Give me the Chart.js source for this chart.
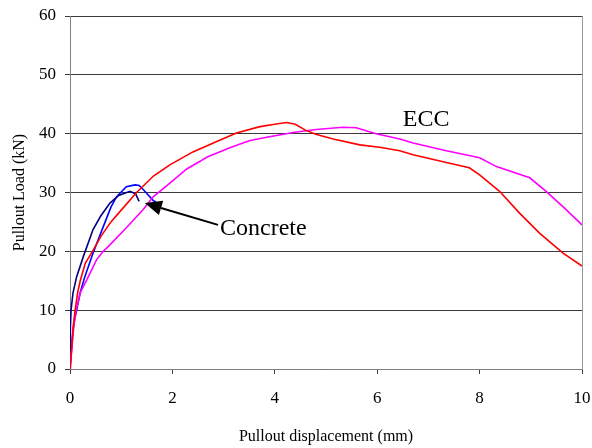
<!DOCTYPE html>
<html>
<head>
<meta charset="utf-8">
<script src="https://cdn.jsdelivr.net/npm/chart.js@4"></script>
<style>
  html, body { margin: 0; padding: 0; background: #fff; }
  #wrap { width: 592px; height: 448px; }
</style>
</head>
<body>
<div id="wrap"><canvas id="c" width="592" height="448"></canvas></div>
<script>
// Pullout load (kN) vs pullout displacement (mm)
const eccRedX = [0, 0.03, 0.06, 0.1, 0.15, 0.2, 0.3, 0.44, 0.6, 0.8, 1.0, 1.3, 1.63, 1.95, 2.4, 2.8, 3.25, 3.71, 4.0, 4.23, 4.4, 4.6, 4.8, 5.14, 5.66, 6.05, 6.44, 6.7, 7.35, 7.8, 8.0, 8.39, 8.78, 9.17, 9.63, 10.0];
const eccRedY = [0, 3, 7, 10, 13, 15, 18, 20, 22.5, 25, 27, 30, 32.8, 34.7, 36.9, 38.4, 40.1, 41.2, 41.6, 41.9, 41.6, 40.6, 39.9, 39.1, 38.1, 37.7, 37.1, 36.4, 35.1, 34.2, 33.0, 30.2, 26.5, 23.1, 19.7, 17.5];

const eccPinkX = [0, 0.03, 0.07, 0.12, 0.2, 0.33, 0.52, 0.65, 0.78, 1.1, 1.43, 1.63, 1.95, 2.28, 2.54, 2.67, 3.12, 3.5, 3.84, 4.36, 4.81, 5.33, 5.59, 5.98, 6.44, 6.7, 7.35, 8.0, 8.33, 8.98, 9.3, 9.69, 10.0];
const eccPinkY = [0, 3, 7, 10, 13, 15.2, 18.6, 20, 21.1, 24, 27.1, 29.3, 31.6, 34.0, 35.3, 36.0, 37.6, 38.8, 39.4, 40.2, 40.7, 41.1, 41.0, 40.0, 39.1, 38.4, 37.1, 35.9, 34.4, 32.5, 30.2, 27.1, 24.5];

const concNavyX = [0, 0.005, 0.01, 0.02, 0.06, 0.13, 0.26, 0.45, 0.6, 0.78, 0.95, 1.17, 1.28, 1.35];
const concNavyY = [0, 3, 7, 10, 13, 15.7, 19.1, 23.7, 26, 28.2, 29.5, 30.2, 29.8, 28.5];

const concBlueX = [0, 0.03, 0.08, 0.13, 0.2, 0.29, 0.45, 0.65, 0.8, 0.91, 1.1, 1.27, 1.35, 1.43, 1.63, 1.68];
const concBlueY = [0, 4, 8, 10, 13, 15.7, 19.7, 24.2, 27.5, 29.3, 31.0, 31.3, 31.2, 30.5, 28.6, 28.4];

const xTicks = [0, 2, 4, 6, 8, 10];
const yTicks = [0, 10, 20, 30, 40, 50, 60];

// Text callouts, in data units
const labelEcc = { text: 'ECC', x: 6.5, y: 41.3 };
const labelConcrete = { text: 'Concrete', x: 2.93, y: 22.8 };
const arrowConcrete = { fromX: 2.89, fromY: 24.5, toX: 1.46, toY: 28.2 };

const toPoints = (xs, ys) => xs.map((x, i) => ({ x: x, y: ys[i] }));

const serif = '"Liberation Serif", "Times New Roman", serif';

const callouts = {
  id: 'callouts',
  afterDatasetsDraw(chart) {
    const { ctx, scales: { x, y }, chartArea } = chart;
    ctx.save();
    // right frame line
    ctx.strokeStyle = '#9a9a9a';
    ctx.lineWidth = 1;
    ctx.beginPath();
    ctx.moveTo(Math.round(chartArea.right) + 0.5, chartArea.top);
    ctx.lineTo(Math.round(chartArea.right) + 0.5, chartArea.bottom);
    ctx.stroke();

    ctx.fillStyle = '#000';
    ctx.font = '24px ' + serif;
    ctx.textAlign = 'left';
    ctx.textBaseline = 'alphabetic';
    ctx.fillText(labelEcc.text, x.getPixelForValue(labelEcc.x), y.getPixelForValue(labelEcc.y));
    ctx.fillText(labelConcrete.text, x.getPixelForValue(labelConcrete.x), y.getPixelForValue(labelConcrete.y));

    // arrow
    const x1 = x.getPixelForValue(arrowConcrete.fromX), y1 = y.getPixelForValue(arrowConcrete.fromY);
    const x2 = x.getPixelForValue(arrowConcrete.toX), y2 = y.getPixelForValue(arrowConcrete.toY);
    const ang = Math.atan2(y2 - y1, x2 - x1);
    const headLen = 17, headHalf = 7.5;
    const bx = x2 - headLen * Math.cos(ang), by = y2 - headLen * Math.sin(ang);
    ctx.strokeStyle = '#000';
    ctx.lineWidth = 2;
    ctx.beginPath();
    ctx.moveTo(x1, y1);
    ctx.lineTo(bx, by);
    ctx.stroke();
    ctx.beginPath();
    ctx.moveTo(x2, y2);
    ctx.lineTo(bx + headHalf * Math.sin(ang), by - headHalf * Math.cos(ang));
    ctx.lineTo(bx - headHalf * Math.sin(ang), by + headHalf * Math.cos(ang));
    ctx.closePath();
    ctx.fill();
    ctx.restore();
  }
};

const lineStyle = (color) => ({
  borderColor: color,
  backgroundColor: color,
  borderWidth: 1.6,
  pointRadius: 0,
  tension: 0,
  fill: false
});

new Chart(document.getElementById('c'), {
  type: 'scatter',
  data: {
    datasets: [
      { label: 'ECC 1', data: toPoints(eccRedX, eccRedY), showLine: true, ...lineStyle('#ff0000') },
      { label: 'ECC 2', data: toPoints(eccPinkX, eccPinkY), showLine: true, ...lineStyle('#ff00ff') },
      { label: 'Concrete 1', data: toPoints(concNavyX, concNavyY), showLine: true, ...lineStyle('#000080') },
      { label: 'Concrete 2', data: toPoints(concBlueX, concBlueY), showLine: true, ...lineStyle('#0000ff') }
    ]
  },
  options: {
    responsive: false,
    animation: false,
    layout: { padding: { left: 0, right: 0, top: 0, bottom: 0 } },
    plugins: { legend: { display: false }, tooltip: { enabled: false } },
    scales: {
      x: {
        type: 'linear',
        min: 0, max: 10,
        afterBuildTicks: (s) => { s.ticks = xTicks.map(v => ({ value: v })); },
        afterFit: (s) => { s.height = 79; s.paddingLeft = 0; s.paddingRight = 10; },
        border: { display: true, color: '#808080', width: 1 },
        grid: { drawOnChartArea: false, drawTicks: true, tickLength: 5, color: '#404040' },
        ticks: { color: '#000', font: { family: serif, size: 17 }, padding: 14, maxRotation: 0 },
        title: { display: true, text: 'Pullout displacement (mm)', color: '#000', font: { family: serif, size: 16 }, padding: { top: 8, bottom: 2 } }
      },
      y: {
        type: 'linear',
        min: 0, max: 60,
        afterBuildTicks: (s) => { s.ticks = yTicks.map(v => ({ value: v })); },
        afterFit: (s) => { s.width = 70; s.paddingTop = 16; s.paddingBottom = 0; },
        border: { display: true, color: '#808080', width: 1 },
        grid: { drawOnChartArea: true, drawTicks: true, tickLength: 5, color: '#3a3a3a' },
        ticks: { color: '#000', font: { family: serif, size: 17 }, padding: 9 },
        title: { display: true, text: 'Pullout Load (kN)', color: '#000', font: { family: serif, size: 16 }, padding: { top: 10, bottom: 0 } }
      }
    }
  },
  plugins: [callouts]
});
</script>
</body>
</html>
